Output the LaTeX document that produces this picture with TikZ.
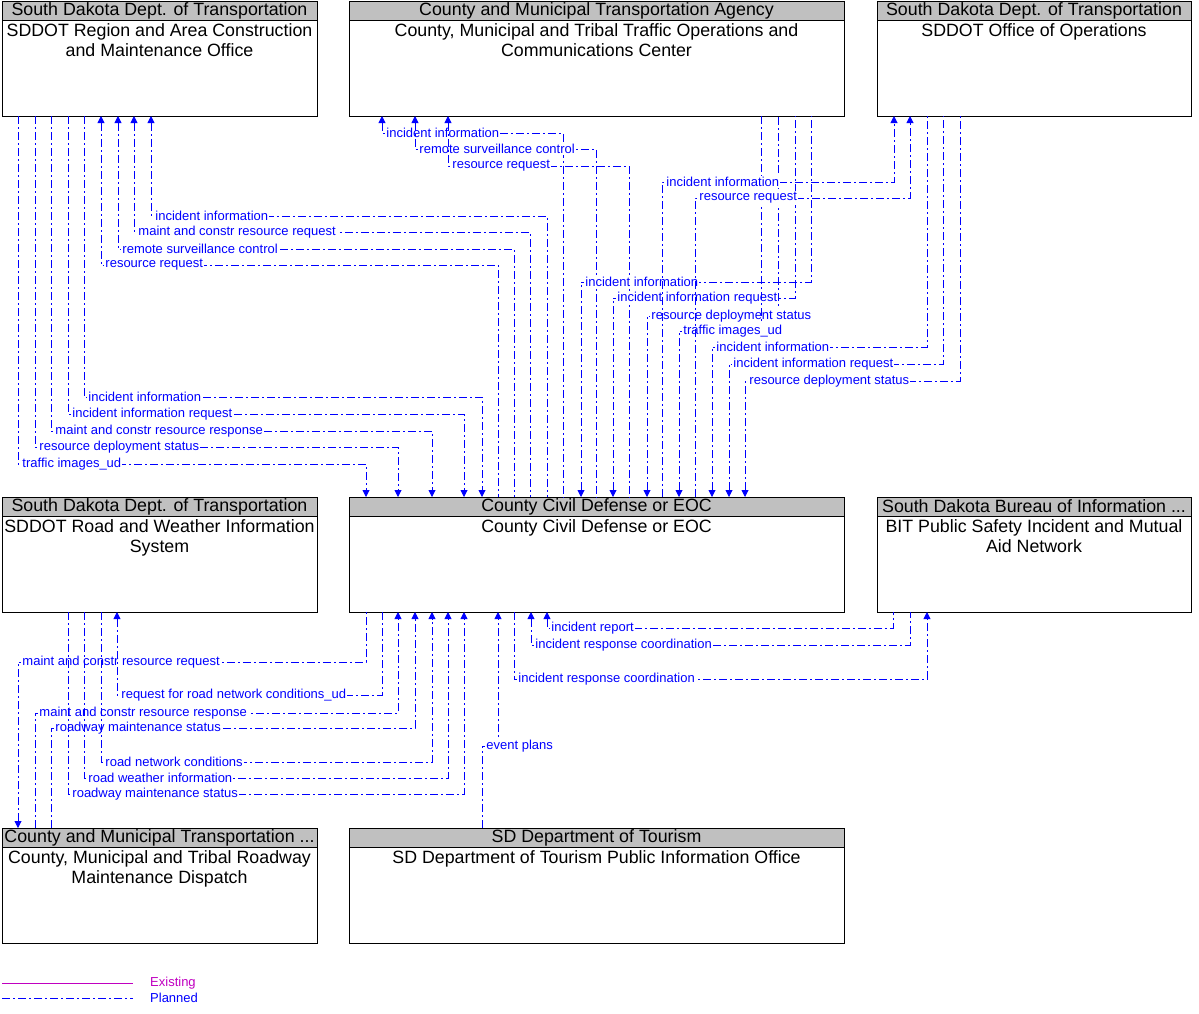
\documentclass[tikz,border=0pt]{standalone}
\usepackage{fontspec}
\setmainfont{Liberation Sans}
\usetikzlibrary{positioning,arrows.meta}
\definecolor{plnblue}{RGB}{0,0,255}
\definecolor{exmagenta}{RGB}{192,0,192}
\definecolor{hdrgray}{RGB}{192,192,192}

\begin{document}
\begin{tikzpicture}[
  x=1pt, y=-1pt,
  sysbox/.style={draw, line width=0.8pt, minimum height=115pt, inner sep=0pt, outer sep=0pt},
  hdr/.style={draw, line width=0.8pt, fill=hdrgray, minimum height=19pt, inner sep=0pt, outer sep=0pt, font=\fontsize{17.8}{19}\selectfont},
  bodytxt/.style={align=center, inner sep=0pt, font=\fontsize{17.8}{20}\selectfont},
  plan/.style={draw=plnblue, line width=0.9pt, dash pattern=on 8pt off 3pt on 2pt off 3pt, >={Triangle[length=7pt,width=7pt]}},
  exist/.style={draw=exmagenta, line width=0.9pt},
  lbl/.style={anchor=west, xshift=3pt, fill=white, inner sep=1pt, text=plnblue, font=\fontsize{13}{13}\selectfont},
  legtxt/.style={anchor=west, inner sep=0pt, font=\fontsize{13}{13}\selectfont}
]
\useasboundingbox (0,0) rectangle (1199,1013);
% Top row
\node[sysbox, minimum width=315pt] (rac) at (159.5,58.5) {};
\node[sysbox, minimum width=495pt, right=32pt of rac] (toc) {};
\node[sysbox, minimum width=314pt, right=33pt of toc] (ops) {};
% Middle row
\node[sysbox, minimum width=315pt, below=381pt of rac] (rwis) {};
\node[sysbox, minimum width=495pt, below=381pt of toc] (eoc) {};
\node[sysbox, minimum width=314pt, below=381pt of ops] (bit) {};
% Bottom row
\node[sysbox, minimum width=315pt, below=216pt of rwis] (rmd) {};
\node[sysbox, minimum width=495pt, below=216pt of eoc] (tour) {};
% Headers and names
\node[hdr, minimum width=315pt, anchor=north] (racH) at (rac.north) {South Dakota Dept. of Transportation};
\node[bodytxt, anchor=north] (racB) at ([yshift=-3pt]racH.south) {SDDOT Region and Area Construction\\and Maintenance Office};
\node[hdr, minimum width=495pt, anchor=north] (tocH) at (toc.north) {County and Municipal Transportation Agency};
\node[bodytxt, anchor=north] (tocB) at ([yshift=-3pt]tocH.south) {County, Municipal and Tribal Traffic Operations and\\Communications Center};
\node[hdr, minimum width=314pt, anchor=north] (opsH) at (ops.north) {South Dakota Dept. of Transportation};
\node[bodytxt, anchor=north] (opsB) at ([yshift=-3pt]opsH.south) {SDDOT Office of Operations};
\node[hdr, minimum width=315pt, anchor=north] (rwisH) at (rwis.north) {South Dakota Dept. of Transportation};
\node[bodytxt, anchor=north] (rwisB) at ([yshift=-3pt]rwisH.south) {SDDOT Road and Weather Information\\System};
\node[hdr, minimum width=495pt, anchor=north] (eocH) at (eoc.north) {County Civil Defense or EOC};
\node[bodytxt, anchor=north] (eocB) at ([yshift=-3pt]eocH.south) {County Civil Defense or EOC};
\node[hdr, minimum width=314pt, anchor=north] (bitH) at (bit.north) {South Dakota Bureau of Information ...};
\node[bodytxt, anchor=north] (bitB) at ([yshift=-3pt]bitH.south) {BIT Public Safety Incident and Mutual\\Aid Network};
\node[hdr, minimum width=315pt, anchor=north] (rmdH) at (rmd.north) {County and Municipal Transportation ...};
\node[bodytxt, anchor=north] (rmdB) at ([yshift=-3pt]rmdH.south) {County, Municipal and Tribal Roadway\\Maintenance Dispatch};
\node[hdr, minimum width=495pt, anchor=north] (tourH) at (tour.north) {SD Department of Tourism};
\node[bodytxt, anchor=north] (tourB) at ([yshift=-3pt]tourH.south) {SD Department of Tourism Public Information Office};
% Region office <-> EOC
\draw[plan, <-] (rac.south -| 151,0) |- node[lbl, pos=0.5]{incident information} (547,216) -- (eoc.north -| 547,0);
\draw[plan, <-] (rac.south -| 134,0) |- node[lbl, pos=0.5]{maint and constr resource request} (530,232) -- (eoc.north -| 530,0);
\draw[plan, <-] (rac.south -| 118,0) |- node[lbl, pos=0.5]{remote surveillance control} (514,249) -- (eoc.north -| 514,0);
\draw[plan, <-] (rac.south -| 101,0) |- node[lbl, pos=0.5]{resource request} (498,265) -- (eoc.north -| 498,0);
\draw[plan, ->] (rac.south -| 84,0) |- node[lbl, pos=0.5]{incident information} (482,397) -- (eoc.north -| 482,0);
\draw[plan, ->] (rac.south -| 68,0) |- node[lbl, pos=0.5]{incident information request} (464,414) -- (eoc.north -| 464,0);
\draw[plan, ->] (rac.south -| 51,0) |- node[lbl, pos=0.5]{maint and constr resource response} (432,431) -- (eoc.north -| 432,0);
\draw[plan, ->] (rac.south -| 35,0) |- node[lbl, pos=0.5]{resource deployment status} (398,447) -- (eoc.north -| 398,0);
\draw[plan, ->] (rac.south -| 18,0) |- node[lbl, pos=0.5]{traffic images\_ud} (366,464) -- (eoc.north -| 366,0);
% Traffic operations center <-> EOC
\draw[plan, <-] (toc.south -| 382,0) |- node[lbl, pos=0.5]{incident information} (563,133) -- (eoc.north -| 563,0);
\draw[plan, <-] (toc.south -| 415,0) |- node[lbl, pos=0.5]{remote surveillance control} (596,149) -- (eoc.north -| 596,0);
\draw[plan, <-] (toc.south -| 448,0) |- node[lbl, pos=0.5]{resource request} (629,166) -- (eoc.north -| 629,0);
\draw[plan, <-] (eoc.north -| 581,0) |- node[lbl, pos=0.5]{incident information} (811,282) -- (toc.south -| 811,0);
\draw[plan, <-] (eoc.north -| 613,0) |- node[lbl, pos=0.5]{incident information request} (795,298) -- (toc.south -| 795,0);
\draw[plan, <-] (eoc.north -| 647,0) |- node[lbl, pos=0.5]{resource deployment status} (778,316) -- (toc.south -| 778,0);
\draw[plan, <-] (eoc.north -| 679,0) |- node[lbl, pos=0.5]{traffic images\_ud} (761,331) -- (toc.south -| 761,0);
% Office of operations <-> EOC
\draw[plan, ->] (eoc.north -| 662,0) |- node[lbl, pos=0.5]{incident information} (894,182) -- (ops.south -| 894,0);
\draw[plan, ->] (eoc.north -| 695,0) |- node[lbl, pos=0.5]{resource request} (910,198) -- (ops.south -| 910,0);
\draw[plan, <-] (eoc.north -| 712,0) |- node[lbl, pos=0.5]{incident information} (927,347) -- (ops.south -| 927,0);
\draw[plan, <-] (eoc.north -| 729,0) |- node[lbl, pos=0.5]{incident information request} (943,364) -- (ops.south -| 943,0);
\draw[plan, <-] (eoc.north -| 745,0) |- node[lbl, pos=0.5]{resource deployment status} (960,381) -- (ops.south -| 960,0);
% EOC <-> road weather, maintenance dispatch, tourism
\draw[plan, <-] (rmd.north -| 18,0) |- node[lbl, pos=0.5]{maint and constr resource request} (366,662) -- (eoc.south -| 366,0);
\draw[plan, <-] (rwis.south -| 117,0) |- node[lbl, pos=0.5]{request for road network conditions\_ud} (382,695) -- (eoc.south -| 382,0);
\draw[plan, ->] (rmd.north -| 35,0) |- node[lbl, pos=0.5]{maint and constr resource response} (398,713) -- (eoc.south -| 398,0);
\draw[plan, ->] (rmd.north -| 51,0) |- node[lbl, pos=0.5]{roadway maintenance status} (415,728) -- (eoc.south -| 415,0);
\draw[plan, ->] (rwis.south -| 101,0) |- node[lbl, pos=0.5]{road network conditions} (432,762) -- (eoc.south -| 432,0);
\draw[plan, ->] (rwis.south -| 84,0) |- node[lbl, pos=0.5]{road weather information} (448,778) -- (eoc.south -| 448,0);
\draw[plan, ->] (rwis.south -| 68,0) |- node[lbl, pos=0.5]{roadway maintenance status} (464,794) -- (eoc.south -| 464,0);
\draw[plan, ->] (tour.north -| 482,0) |- node[lbl, pos=0.5]{event plans} (498,746) -- (eoc.south -| 498,0);
% EOC <-> BIT network
\draw[plan, <-] (eoc.south -| 547,0) |- node[lbl, pos=0.5]{incident report} (893,628) -- (bit.south -| 893,0);
\draw[plan, <-] (eoc.south -| 531,0) |- node[lbl, pos=0.5]{incident response coordination} (910,645) -- (bit.south -| 910,0);
\draw[plan, ->] (eoc.south -| 514,0) |- node[lbl, pos=0.5]{incident response coordination} (927,679) -- (bit.south -| 927,0);
% Legend
\coordinate (exA) at (2,983);
\coordinate (exB) at (133,983);
\coordinate (plA) at (2,998);
\coordinate (plB) at (133,998);
\draw[exist] (exA) -- (exB);
\draw[plan] (plA) -- (plB);
\node[legtxt, text=exmagenta] (exT) at (150,983) {Existing};
\node[legtxt, text=plnblue] (plT) at (150,998) {Planned};
\end{tikzpicture}
\end{document}
